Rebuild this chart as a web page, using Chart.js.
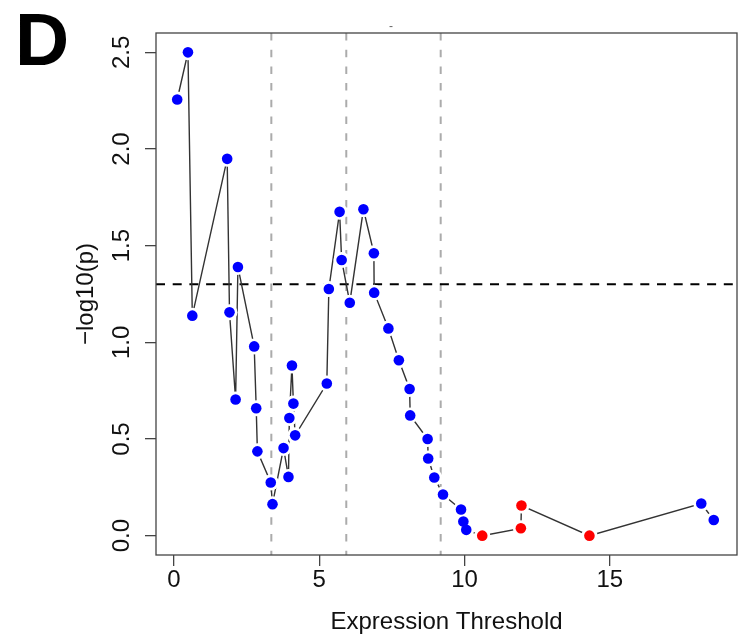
<!DOCTYPE html>
<html><head><meta charset="utf-8">
<script src="https://cdn.jsdelivr.net/npm/chart.js@4/dist/chart.umd.min.js"></script>
<style>html,body{margin:0;padding:0;background:#fff;}</style>
</head><body>
<canvas id="c" width="745" height="642"></canvas>
<script>
// ---- data ----
const thresholds = [0.11,0.48,0.63,1.83,1.91,2.12,2.20,2.76,2.83,2.87,3.33,3.39,3.77,3.94,3.97,4.06,4.11,4.17,5.26,5.33,5.70,5.77,6.05,6.52,6.88,6.89,7.38,7.74,8.11,8.13,8.73,8.75,8.96,9.26,9.88,9.96,10.06,10.61,11.94,11.96,14.30,18.15,18.58];
const negLog10P  = [2.256,2.50,1.138,1.949,1.155,0.704,1.390,0.979,0.659,0.436,0.275,0.163,0.453,0.304,0.609,0.880,0.683,0.519,0.787,1.276,1.675,1.426,1.205,1.688,1.461,1.257,1.072,0.907,0.759,0.622,0.500,0.399,0.301,0.213,0.135,0.073,0.030,0.0,0.038,0.156,0.0,0.166,0.081];
const pointGroup = ['b','b','b','b','b','b','b','b','b','b','b','b','b','b','b','b','b','b','b','b','b','b','b','b','b','b','b','b','b','b','b','b','b','b','b','b','b','r','r','r','r','b','b'];
const xTicks = [0,5,10,15];
const yTicks = [0,0.5,1,1.5,2,2.5];
const cutoffLines = [3.35,5.93,9.18];
const significanceLine = 1.301;
const xRange = [-0.62,19.38];
const yRange = [-0.1,2.6];

const pts = thresholds.map((x,i)=>({x:x,y:negLog10P[i]}));
const groupColor = {b:'#0000FF', r:'#FF0000'};
const FONT = '"Liberation Sans", Arial, Helvetica, sans-serif';

const datasets = [];
datasets.push({data:pts, showLine:false, pointRadius:5.3, pointBorderWidth:0,
  pointBackgroundColor: pointGroup.map(g=>groupColor[g]), order:1});
datasets.push({data:pts, showLine:false, pointRadius:8, pointBorderWidth:0,
  pointBackgroundColor:'#ffffff', order:2});
datasets.push({data:pts, showLine:true, pointRadius:0, borderColor:'#333333', borderWidth:1.4, order:3});
cutoffLines.forEach(v=>{
  datasets.push({data:[{x:v,y:yRange[1]},{x:v,y:yRange[0]}], showLine:true, pointRadius:0,
    borderColor:'#ababab', borderWidth:2, borderDash:[7.5,9.2], order:5});
});
datasets.push({data:[{x:xRange[0],y:significanceLine},{x:xRange[1],y:significanceLine}], showLine:true, pointRadius:0,
  borderColor:'#000000', borderWidth:2, borderDash:[9,7.7], order:4});

const decor = {
  id:'decor',
  afterDraw(chart){
    const ctx = chart.ctx, a = chart.chartArea;
    ctx.save();
    ctx.strokeStyle = '#444'; ctx.lineWidth = 1.3;
    ctx.strokeRect(a.left, a.top, a.right-a.left, a.bottom-a.top);
    ctx.fillStyle = '#000';
    ctx.font = 'bold 75px ' + FONT;
    ctx.textBaseline = 'alphabetic'; ctx.textAlign = 'left';
    ctx.fillText('D', 15, 65);
    ctx.font = '12px ' + FONT; ctx.textAlign = 'center'; ctx.textBaseline='middle';
    ctx.fillStyle = '#666';
    ctx.fillText('-', 391, 27);
    ctx.restore();
  }
};

new Chart(document.getElementById('c'), {
  type:'scatter',
  data:{datasets},
  options:{
    responsive:false, animation:false, devicePixelRatio:1,
    layout:{padding:{left:0,right:2,top:33,bottom:0}},
    plugins:{legend:{display:false}, tooltip:{enabled:false}, title:{display:false}},
    scales:{
      x:{type:'linear', min:xRange[0], max:xRange[1],
        afterBuildTicks:s=>{s.ticks = xTicks.map(v=>({value:v}));},
        afterFit:s=>{s.height = 87;},
        grid:{display:true, drawOnChartArea:false, drawTicks:true, tickLength:11, color:'#444', lineWidth:1.3},
        border:{display:false},
        ticks:{color:'#111', font:{family:FONT, size:24}, padding:0, maxRotation:0, autoSkip:false,
          callback:v=>String(v)},
        title:{display:true, text:'Expression Threshold', color:'#111', font:{family:FONT, size:24}, padding:{top:0,bottom:5}}
      },
      y:{type:'linear', min:yRange[0], max:yRange[1],
        afterBuildTicks:s=>{s.ticks = yTicks.map(v=>({value:v}));},
        afterFit:s=>{s.width = 156;},
        grid:{display:true, drawOnChartArea:false, drawTicks:true, tickLength:11, color:'#444', lineWidth:1.3},
        border:{display:false},
        ticks:{color:'#111', font:{family:FONT, size:24}, padding:6, minRotation:90, maxRotation:90,
          crossAlign:'center', autoSkip:false, callback:v=>Number(v).toFixed(1)},
        title:{display:true, text:'−log10(p)', color:'#111', font:{family:FONT, size:24}, padding:{top:72,bottom:0}}
      }
    }
  },
  plugins:[decor]
});
</script>
</body></html>
